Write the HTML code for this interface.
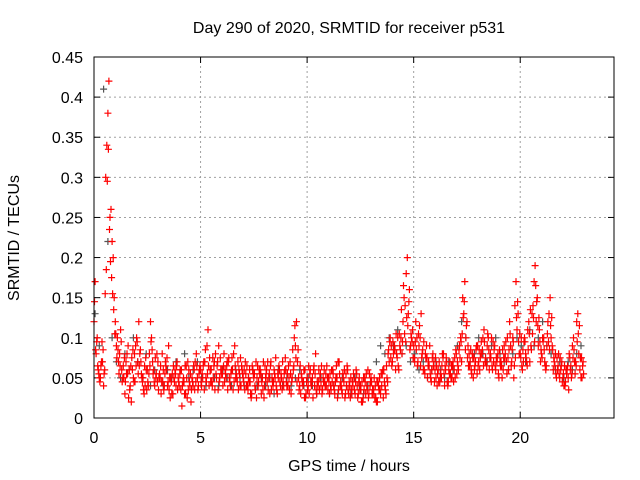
<!DOCTYPE html>
<html><head><meta charset="utf-8"><style>
body{margin:0;background:#fff;}
svg{display:block;font-family:"Liberation Sans",sans-serif;}
</style></head><body>
<svg id="chart" width="640" height="480">
<text x="349" y="33" font-size="16" text-anchor="middle">Day 290 of 2020, SRMTID for receiver p531</text>
<text x="349" y="471" font-size="16" text-anchor="middle">GPS time / hours</text>
<text transform="translate(19,238) rotate(-90)" font-size="16" text-anchor="middle">SRMTID / TECUs</text>
<g id="grid"></g>
<g id="ticks"></g>
<g id="gray"></g>
<g id="red"></g>
<rect x="94" y="57" width="520" height="361" fill="none" stroke="#000" stroke-width="1"/>
</svg>
<script>
const xTicks=[0,5,10,15,20];
const yTicks=[0,0.05,0.1,0.15,0.2,0.25,0.3,0.35,0.4,0.45];
const yLabels=["0","0.05","0.1","0.15","0.2","0.25","0.3","0.35","0.4","0.45"];
const redA=[0.12,0.08,0.06,0.05,0.07,0.06,0.34,0.42,0.26,0.2,
0.12,0.1,0.08,0.06,0.05,0.07,0.09,0.04,0.06,0.08,
0.1,0.12,0.07,0.05,0.04,0.06,0.08,0.1,0.06,0.05,
0.07,0.05,0.08,0.04,0.06,0.09,0.05,0.03,0.06,0.07,
0.04,0.06,0.05,0.03,0.07,0.04,0.05,0.06,0.08,0.04,
0.06,0.05,0.07,0.09,0.04,0.06,0.05,0.08,0.07,0.05,
0.06,0.08,0.05,0.07,0.04,0.06,0.09,0.05,0.06,0.04,
0.05,0.07,0.04,0.06,0.03,0.05,0.07,0.04,0.06,0.05,
0.04,0.06,0.05,0.07,0.04,0.05,0.03,0.06,0.05,0.04,
0.06,0.04,0.07,0.05,0.1,0.12,0.05,0.03,0.04,0.06,
0.05,0.03,0.04,0.06,0.08,0.04,0.05,0.03,0.06,0.04,
0.05,0.04,0.06,0.03,0.05,0.07,0.04,0.05,0.03,0.06,
0.04,0.03,0.05,0.06,0.03,0.04,0.02,0.05,0.04,0.03,
0.05,0.03,0.04,0.02,0.05,0.04,0.06,0.03,0.08,0.1,
0.07,0.09,0.08,0.06,0.1,0.12,0.14,0.2,0.16,0.1,
0.09,0.12,0.07,0.1,0.08,0.06,0.09,0.07,0.05,0.08,
0.06,0.04,0.07,0.05,0.08,0.06,0.04,0.07,0.05,0.06,
0.08,0.06,0.1,0.15,0.17,0.12,0.08,0.06,0.05,0.07,
0.09,0.06,0.08,0.11,0.07,0.1,0.08,0.06,0.09,0.07,
0.05,0.07,0.06,0.08,0.1,0.12,0.07,0.05,0.17,0.13,
0.08,0.06,0.1,0.07,0.12,0.09,0.14,0.19,0.15,0.11,
0.08,0.1,0.06,0.12,0.15,0.09,0.07,0.05,0.08,0.06,
0.05,0.04,0.06,0.08,0.05,0.1,0.07,0.13,0.06,0.05];
const redB=[0.17,0.1,0.05,0.07,0.04,0.3,0.38,0.25,0.22,0.15,
0.09,0.07,0.11,0.05,0.03,0.08,0.06,0.02,0.05,0.09,
0.07,0.08,0.05,0.03,0.06,0.04,0.12,0.07,0.04,0.08,
0.05,0.03,0.06,0.07,0.04,0.05,0.03,0.05,0.04,0.05,
0.06,0.04,0.03,0.05,0.06,0.02,0.04,0.07,0.05,0.06,
0.04,0.07,0.05,0.11,0.06,0.04,0.07,0.05,0.09,0.06,
0.04,0.06,0.07,0.05,0.06,0.08,0.05,0.07,0.04,0.06,
0.06,0.04,0.05,0.03,0.06,0.04,0.05,0.06,0.03,0.07,
0.05,0.07,0.03,0.05,0.06,0.04,0.05,0.04,0.07,0.06,
0.04,0.05,0.03,0.06,0.09,0.07,0.04,0.05,0.06,0.03,
0.04,0.06,0.05,0.04,0.03,0.06,0.04,0.05,0.04,0.05,
0.03,0.06,0.04,0.05,0.07,0.04,0.03,0.06,0.04,0.03,
0.05,0.04,0.03,0.04,0.05,0.02,0.05,0.03,0.06,0.04,
0.03,0.05,0.02,0.04,0.03,0.06,0.04,0.05,0.07,0.09,
0.08,0.06,0.1,0.09,0.08,0.15,0.18,0.13,0.09,0.11,
0.07,0.1,0.09,0.13,0.06,0.08,0.05,0.09,0.06,0.07,
0.05,0.06,0.05,0.08,0.04,0.07,0.06,0.05,0.07,0.05,
0.07,0.09,0.07,0.13,0.1,0.09,0.07,0.08,0.06,0.09,
0.07,0.08,0.1,0.07,0.09,0.06,0.1,0.07,0.06,0.08,
0.07,0.05,0.09,0.07,0.06,0.09,0.1,0.14,0.11,0.08,
0.1,0.07,0.08,0.11,0.07,0.13,0.17,0.12,0.09,0.07,
0.1,0.07,0.09,0.13,0.1,0.06,0.08,0.06,0.05,0.07,
0.04,0.06,0.05,0.06,0.09,0.07,0.12,0.08,0.05,0.07];
const redC=[0.145,0.095,0.055,0.065,0.085,0.155,0.295,0.235,0.175,0.135,
0.105,0.085,0.065,0.045,0.075,0.055,0.025,0.065,0.085,0.045,
0.095,0.065,0.055,0.035,0.075,0.045,0.065,0.085,0.045,0.055,
0.035,0.065,0.045,0.055,0.075,0.035,0.045,0.065,0.055,0.035,
0.055,0.015,0.045,0.065,0.035,0.055,0.045,0.035,0.065,0.055,
0.045,0.065,0.085,0.055,0.075,0.045,0.065,0.055,0.035,0.075,
0.055,0.045,0.065,0.075,0.055,0.035,0.065,0.045,0.055,0.065,
0.045,0.055,0.035,0.045,0.065,0.055,0.025,0.045,0.055,0.035,
0.065,0.045,0.055,0.035,0.045,0.075,0.055,0.045,0.035,0.055,
0.045,0.065,0.055,0.085,0.115,0.045,0.035,0.055,0.045,0.025,
0.035,0.055,0.045,0.065,0.035,0.045,0.055,0.035,0.045,0.065,
0.045,0.035,0.055,0.045,0.025,0.055,0.035,0.045,0.055,0.035,
0.025,0.045,0.035,0.055,0.045,0.035,0.025,0.045,0.035,0.055,
0.045,0.035,0.025,0.045,0.035,0.055,0.045,0.065,0.085,0.075,
0.095,0.085,0.075,0.105,0.135,0.165,0.095,0.115,0.085,0.095,
0.075,0.085,0.105,0.065,0.085,0.055,0.075,0.065,0.045,0.065,
0.075,0.055,0.045,0.065,0.055,0.075,0.045,0.055,0.065,0.075,
0.055,0.085,0.095,0.125,0.085,0.075,0.065,0.055,0.075,0.085,
0.065,0.075,0.085,0.095,0.065,0.085,0.075,0.095,0.065,0.075,
0.085,0.065,0.075,0.095,0.075,0.105,0.085,0.065,0.125,0.095,
0.075,0.085,0.095,0.065,0.105,0.085,0.125,0.165,0.115,0.095,
0.075,0.085,0.065,0.095,0.115,0.085,0.065,0.075,0.055,0.065,
0.055,0.045,0.065,0.075,0.055,0.085,0.065,0.105,0.075,0.065];
const redD=[0.085,0.065,0.045,0.095,0.055,0.185,0.335,0.195,0.155,0.105,
0.075,0.055,0.095,0.065,0.045,0.055,0.035,0.075,0.045,0.065,
0.055,0.085,0.045,0.065,0.035,0.055,0.095,0.055,0.075,0.045,
0.055,0.045,0.035,0.065,0.045,0.025,0.055,0.045,0.065,0.045,
0.035,0.045,0.065,0.025,0.045,0.035,0.065,0.045,0.035,0.065,
0.055,0.035,0.045,0.065,0.045,0.075,0.035,0.065,0.045,0.055,
0.065,0.055,0.035,0.045,0.075,0.045,0.055,0.035,0.075,0.055,
0.035,0.065,0.045,0.025,0.055,0.035,0.065,0.055,0.045,0.025,
0.055,0.035,0.065,0.045,0.055,0.035,0.065,0.055,0.045,0.075,
0.055,0.035,0.045,0.065,0.075,0.085,0.065,0.045,0.025,0.045,
0.065,0.045,0.025,0.055,0.045,0.035,0.065,0.045,0.055,0.035,
0.055,0.045,0.035,0.065,0.035,0.045,0.055,0.025,0.065,0.045,
0.035,0.055,0.045,0.025,0.035,0.045,0.035,0.055,0.025,0.045,
0.035,0.025,0.045,0.035,0.055,0.025,0.035,0.045,0.095,0.065,
0.085,0.105,0.065,0.085,0.095,0.105,0.125,0.145,0.105,0.075,
0.095,0.065,0.115,0.075,0.095,0.075,0.065,0.055,0.075,0.045,
0.065,0.045,0.055,0.075,0.065,0.045,0.055,0.065,0.045,0.085,
0.065,0.075,0.105,0.145,0.115,0.065,0.085,0.075,0.065,0.055,
0.085,0.095,0.065,0.075,0.105,0.075,0.065,0.085,0.075,0.055,
0.065,0.085,0.075,0.055,0.085,0.065,0.095,0.075,0.145,0.105,
0.065,0.095,0.075,0.085,0.135,0.105,0.095,0.145,0.125,0.085,
0.095,0.065,0.105,0.085,0.125,0.075,0.055,0.065,0.075,0.045,
0.065,0.055,0.035,0.065,0.075,0.055,0.095,0.115,0.075,0.055];
const grayS=[0.13,0.09,0.41,0.22,0.1,0.07,0.05,0.08,0.06,0.1,
0.07,0.05,0.08,0.04,0.06,0.05,0.04,0.06,0.05,0.07,
0.06,0.08,0.05,0.06,0.07,0.05,0.04,0.06,0.05,0.04,
0.06,0.05,0.04,0.06,0.05,0.04,0.05,0.06,0.04,0.05,
0.04,0.05,0.03,0.06,0.04,0.05,0.04,0.05,0.06,0.04,
0.05,0.04,0.03,0.05,0.04,0.03,0.04,0.03,0.05,0.04,
0.03,0.05,0.04,0.03,0.04,0.03,0.07,0.09,0.08,0.1,
0.09,0.11,0.08,0.09,0.07,0.08,0.06,0.07,0.05,0.06,
0.07,0.06,0.05,0.07,0.06,0.09,0.12,0.1,0.07,0.08,
0.1,0.08,0.07,0.09,0.1,0.08,0.07,0.06,0.08,0.1,
0.09,0.07,0.11,0.09,0.1,0.12,0.09,0.08,0.06,0.07,
0.05,0.07,0.06,0.08,0.09];
const NS="http://www.w3.org/2000/svg";
const X0=94,X1=614,Y0=418,Y1=57;
const xs=h=>X0+h*(X1-X0)/24.4;
const ys=v=>Y0-v*(Y0-Y1)/0.45;
const grid=document.getElementById('grid'),ticks=document.getElementById('ticks');
function mk(tag,attrs,parent){const e=document.createElementNS(NS,tag);for(const k in attrs)e.setAttribute(k,attrs[k]);parent.appendChild(e);return e;}
yTicks.forEach((v,i)=>{const y=ys(v);
 if(i>0&&i<yTicks.length-1){const g=mk('line',{x1:X0,x2:X1,y1:y,y2:y,stroke:'#a0a0a0','stroke-dasharray':'2,3'},grid);
 
 }
 mk('line',{x1:X0,x2:X0+6,y1:y,y2:y,stroke:'#000'},ticks);mk('line',{x1:X1,x2:X1-6,y1:y,y2:y,stroke:'#000'},ticks);
 const t=mk('text',{x:X0-11,y:y+6,'font-size':16,'text-anchor':'end'},ticks);t.textContent=yLabels[i];
 
 });
xTicks.forEach(h=>{const x=xs(h);
 if(h>0){const g=mk('line',{x1:x,x2:x,y1:Y0,y2:Y1,stroke:'#a0a0a0','stroke-dasharray':'2,3'},grid);
 
 }
 mk('line',{x1:x,x2:x,y1:Y0,y2:Y0-6,stroke:'#000'},ticks);mk('line',{x1:x,x2:x,y1:Y1,y2:Y1+6,stroke:'#000'},ticks);
 const t=mk('text',{x:x,y:Y0+25,'font-size':16,'text-anchor':'middle'},ticks);t.textContent=String(h);
 
 });
function plot(arr,start,step,color,gid){let d='';arr.forEach((v,i)=>{const x=xs(start+i*step),y=ys(v);d+=`M${(x-3.5).toFixed(1)} ${y.toFixed(1)}h7M${x.toFixed(1)} ${(y-3.5).toFixed(1)}v7`;});
 const p=mk('path',{d:d,stroke:color,'stroke-width':1.2,fill:'none'},document.getElementById(gid));
 
 }
plot(grayS,0.05,0.2,'#555','gray');
plot(redA,0,0.1,'#ff0000','red');
plot(redB,0.05,0.1,'#ff0000','red');
plot(redC,0.025,0.1,'#ff0000','red');
plot(redD,0.075,0.1,'#ff0000','red');
</script>
</body></html>
